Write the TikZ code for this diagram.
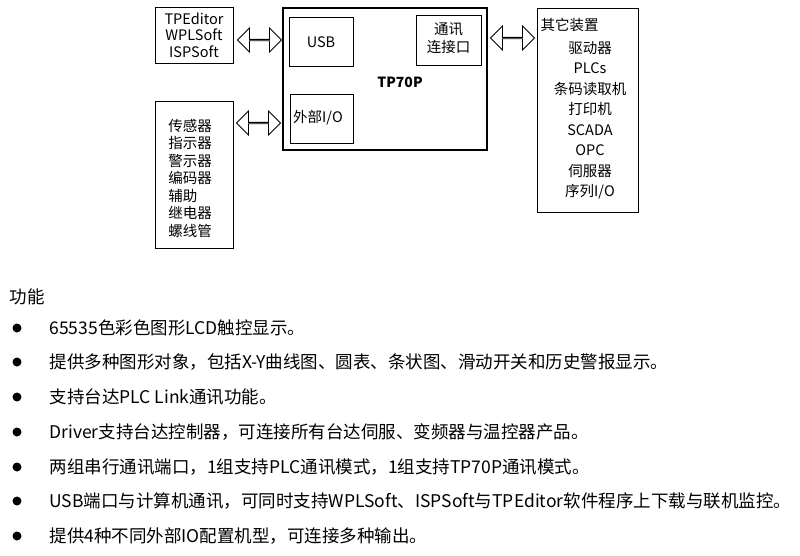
\documentclass[tikz,border=0pt]{standalone}
\usepackage{fontspec}
\setmainfont{Noto Sans CJK SC}
\usetikzlibrary{shapes.arrows}
\begin{document}
\begin{tikzpicture}[x=1pt,y=-1pt,
  box/.style={draw,line width=1pt,inner sep=0pt},
  dbl/.style={double arrow,draw,line width=0.8pt,minimum height=44pt,minimum width=24pt,double arrow head extend=7pt,inner sep=0pt},
  dt/.style={font=\fontsize{14.5}{17.5}\selectfont,align=center},
  bt/.style={font=\fontsize{17.5}{19}\selectfont,anchor=west},
  bul/.style={circle,fill,inner sep=0pt,minimum size=9pt}]
\useasboundingbox (0,0) rectangle (800,555);
\node[box,minimum width=78pt,minimum height=56pt] (tpe) at (194,35) {};
\node[dt,font=\fontsize{14.5}{16.5}\selectfont] (tpet) at (194,35) {TPEditor\\WPLSoft\\ISPSoft};
\node[box,minimum width=78pt,minimum height=147pt] (sen) at (194,174.5) {};
\node[dt,align=left] (sent) at (190,178) {传感器\\指示器\\警示器\\编码器\\辅助\\继电器\\螺线管};
\node[box,line width=1.4pt,minimum width=204pt,minimum height=142pt] (tp) at (385,79) {};
\node[font=\bfseries\fontsize{14}{16}\selectfont] (tpl) at (400,82) {TP70P};
\node[box,minimum width=64pt,minimum height=49pt] (usb) at (321,41.5) {};
\node[dt] (usbt) at (321,42) {USB};
\node[box,minimum width=65pt,minimum height=50pt] (com) at (448.5,40) {};
\node[dt] (comt) at (448.5,38) {通讯\\连接口};
\node[box,minimum width=63pt,minimum height=49pt] (io) at (321.5,118.5) {};
\node[dt] (iot) at (318,118) {外部I/O};
\node[box,minimum width=101pt,minimum height=204pt] (oth) at (587.5,110) {};
\node[dt,anchor=north west] (otht) at (537,15) {其它装置};
\node[dt,anchor=north,font=\fontsize{14.5}{20.5}\selectfont] (othl) at (590,38) {驱动器\\PLCs\\条码读取机\\打印机\\SCADA\\OPC\\伺服器\\序列I/O};
\node[dbl] (a1) at (259.5,40) {};
\node[dbl] (a2) at (258.5,123) {};
\node[dbl] (a3) at (512.5,38) {};
\node[bt] (f) at (6,297) {功能};
\foreach \y/\t [count=\i] in {328/65535色彩色图形LCD触控显示。,
 362/{提供多种图形对象，包括X-Y曲线图、圆表、条状图、滑动开关和历史警报显示。},
 397/支持台达PLC Link通讯功能。,
 432/{Driver支持台达控制器，可连接所有台达伺服、变频器与温控器产品。},
 467/{两组串行通讯端口，1组支持PLC通讯模式，1组支持TP70P通讯模式。},
 501/{USB端口与计算机通讯，可同时支持WPLSoft、ISPSoft与TPEditor软件程序上下载与联机监控。},
 536/{提供4种不同外部IO配置机型，可连接多种输出。}}{
  \node[bul] (b\i) at (17,\y) {};
  \node[bt] (t\i) at (46,\y) {\t};
}
\end{tikzpicture}
\end{document}
